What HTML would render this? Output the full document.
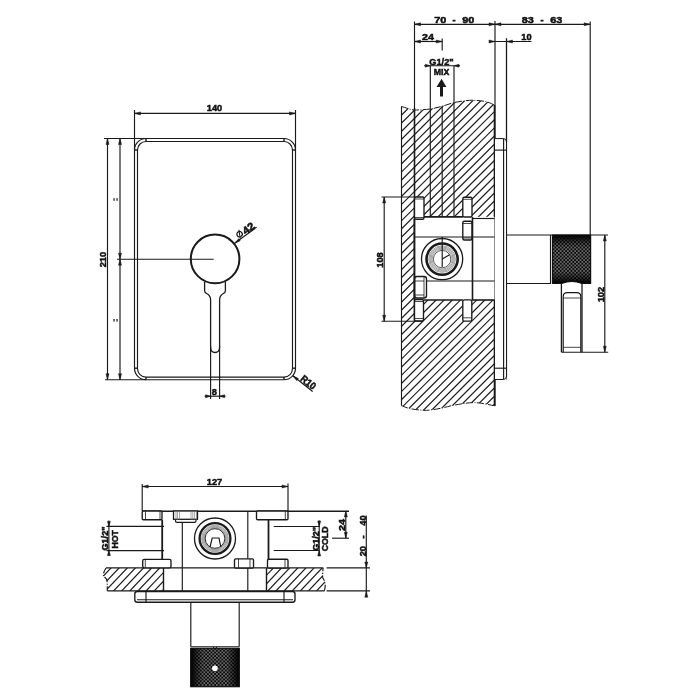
<!DOCTYPE html>
<html><head><meta charset="utf-8"><style>
html,body{margin:0;padding:0;background:#fff;}
svg{display:block;}
text{font-family:"Liberation Sans",sans-serif;fill:#111;stroke:#111;stroke-width:0.5px;}
svg{will-change:transform;}
</style></head><body>
<svg width="700" height="700" viewBox="0 0 700 700">
<line x1="134.5" y1="110" x2="134.5" y2="138.5" stroke="#1a1a1a" stroke-width="1.15"/>
<line x1="295.5" y1="110" x2="295.5" y2="150" stroke="#1a1a1a" stroke-width="1.15"/>
<line x1="134.5" y1="113.4" x2="295.5" y2="113.4" stroke="#1a1a1a" stroke-width="1.15"/>
<polygon points="134.50,113.40 140.50,111.90 140.50,114.90" fill="#1a1a1a" stroke="#1a1a1a" stroke-width="0.5"/>
<polygon points="295.50,113.40 289.50,114.90 289.50,111.90" fill="#1a1a1a" stroke="#1a1a1a" stroke-width="0.5"/>
<text x="0" y="0" font-size="9.72" font-weight="bold" text-anchor="middle" transform="translate(214.5,111.3) scale(0.95,1)">140</text>
<path d="M146.0,138.5 H284.0 A11.5,11.5 0 0 1 295.5,150.0 V368.2 A11.5,11.5 0 0 1 284.0,379.7 H146.0 A11.5,11.5 0 0 1 134.5,368.2 V150.0 A11.5,11.5 0 0 1 146.0,138.5 Z" fill="none" stroke="#1a1a1a" stroke-width="1.15" />
<path d="M146.0,141.5 H284.0 A8.5,8.5 0 0 1 292.5,150.0 V368.59999999999997 A8.5,8.5 0 0 1 284.0,377.09999999999997 H146.0 A8.5,8.5 0 0 1 137.5,368.59999999999997 V150.0 A8.5,8.5 0 0 1 146.0,141.5 Z" fill="none" stroke="#1a1a1a" stroke-width="1.15" />
<line x1="134.5" y1="150.0" x2="137.5" y2="150.0" stroke="#1a1a1a" stroke-width="1.4"/>
<line x1="146.0" y1="138.5" x2="146.0" y2="141.5" stroke="#1a1a1a" stroke-width="1.4"/>
<line x1="292.5" y1="150.0" x2="295.5" y2="150.0" stroke="#1a1a1a" stroke-width="1.4"/>
<line x1="284.0" y1="138.5" x2="284.0" y2="141.5" stroke="#1a1a1a" stroke-width="1.4"/>
<line x1="134.5" y1="368.2" x2="137.5" y2="368.2" stroke="#1a1a1a" stroke-width="1.4"/>
<line x1="146.0" y1="379.7" x2="146.0" y2="377.09999999999997" stroke="#1a1a1a" stroke-width="1.4"/>
<line x1="292.5" y1="368.2" x2="295.5" y2="368.2" stroke="#1a1a1a" stroke-width="1.4"/>
<line x1="284.0" y1="379.7" x2="284.0" y2="377.09999999999997" stroke="#1a1a1a" stroke-width="1.4"/>
<line x1="104" y1="138.5" x2="147" y2="138.5" stroke="#1a1a1a" stroke-width="1.15"/>
<line x1="134.5" y1="138.5" x2="134.5" y2="150" stroke="#1a1a1a" stroke-width="1.15"/>
<line x1="105" y1="379.7" x2="146" y2="379.7" stroke="#1a1a1a" stroke-width="1.15"/>
<line x1="107.5" y1="138.5" x2="107.5" y2="379.7" stroke="#1a1a1a" stroke-width="1.15"/>
<polygon points="107.50,138.50 109.00,144.50 106.00,144.50" fill="#1a1a1a" stroke="#1a1a1a" stroke-width="0.5"/>
<polygon points="107.50,379.70 106.00,373.70 109.00,373.70" fill="#1a1a1a" stroke="#1a1a1a" stroke-width="0.5"/>
<text x="0" y="0" font-size="9.72" font-weight="bold" text-anchor="middle" transform="translate(106.3,259.6) rotate(-90) scale(0.95,1)">210</text>
<line x1="120" y1="138.5" x2="120" y2="379.7" stroke="#1a1a1a" stroke-width="1.15"/>
<polygon points="120.00,138.50 121.50,144.50 118.50,144.50" fill="#1a1a1a" stroke="#1a1a1a" stroke-width="0.5"/>
<polygon points="120.00,379.70 118.50,373.70 121.50,373.70" fill="#1a1a1a" stroke="#1a1a1a" stroke-width="0.5"/>
<polygon points="120.00,259.20 118.50,253.20 121.50,253.20" fill="#1a1a1a" stroke="#1a1a1a" stroke-width="0.5"/>
<polygon points="120.00,259.20 121.50,265.20 118.50,265.20" fill="#1a1a1a" stroke="#1a1a1a" stroke-width="0.5"/>
<rect x="113.3" y="198.2" width="1.5" height="2.6" fill="#444"/>
<rect x="116.3" y="198.2" width="1.5" height="2.6" fill="#444"/>
<rect x="113.3" y="319.0" width="1.5" height="2.6" fill="#444"/>
<rect x="116.3" y="319.0" width="1.5" height="2.6" fill="#444"/>
<line x1="117" y1="259.2" x2="213.7" y2="259.2" stroke="#1a1a1a" stroke-width="1.15"/>
<circle cx="215.1" cy="258.9" r="24.3" fill="none" stroke="#1a1a1a" stroke-width="2.0"/>
<g transform="translate(234.6,243.3) rotate(-36.2)">
<line x1="0" y1="0" x2="27.4" y2="0" stroke="#1a1a1a" stroke-width="1.2"/>
<polygon points="0.00,0.00 6.00,-1.30 6.00,1.30" fill="#1a1a1a" stroke="#1a1a1a" stroke-width="0.5"/>
<circle cx="9.4" cy="-4.4" r="2.7" fill="none" stroke="#111" stroke-width="1.2"/>
<line x1="7.3" y1="-0.4" x2="11.5" y2="-8.4" stroke="#111" stroke-width="1.0"/>
<text x="0" y="0" font-size="10.37" font-weight="bold" text-anchor="middle" transform="translate(20.0,-0.3) scale(1.1,1)">42</text>
</g>
<path d="M204.6,282.0 V290.5 Q204.6,292.5 206.6,293.5 Q210.6,295.5 210.6,300 V347 Q210.6,352.5 215,352.5 Q219.6,352.5 219.6,347 V300 Q219.6,295.5 223.4,293.5 Q225.4,292.5 225.4,290.5 V282.0" fill="none" stroke="#1a1a1a" stroke-width="1.3" />
<line x1="210.6" y1="346" x2="210.6" y2="399" stroke="#1a1a1a" stroke-width="1.15"/>
<line x1="219.6" y1="346" x2="219.6" y2="399" stroke="#1a1a1a" stroke-width="1.15"/>
<line x1="204.5" y1="396.2" x2="225.5" y2="396.2" stroke="#1a1a1a" stroke-width="1.15"/>
<polygon points="210.60,396.20 205.60,397.70 205.60,394.70" fill="#1a1a1a" stroke="#1a1a1a" stroke-width="0.5"/>
<polygon points="219.60,396.20 224.60,394.70 224.60,397.70" fill="#1a1a1a" stroke="#1a1a1a" stroke-width="0.5"/>
<text x="0" y="0" font-size="9.72" font-weight="bold" text-anchor="middle" transform="translate(214.2,395) scale(0.95,1)">8</text>
<g transform="translate(292.8,375.8) rotate(38.3)">
<line x1="0" y1="0" x2="25.3" y2="0" stroke="#1a1a1a" stroke-width="1.2"/>
<polygon points="0.00,0.00 6.00,-1.30 6.00,1.30" fill="#1a1a1a" stroke="#1a1a1a" stroke-width="0.5"/>
<text x="0" y="0" font-size="10.04" font-weight="bold" text-anchor="middle" transform="translate(16.2,-1.0) scale(0.9,1)">R10</text>
</g>
<line x1="414.5" y1="21.5" x2="414.5" y2="108" stroke="#1a1a1a" stroke-width="1.15"/>
<line x1="414.5" y1="108" x2="414.5" y2="321" stroke="#1a1a1a" stroke-width="1.6"/>
<line x1="495" y1="21" x2="495" y2="406" stroke="#1a1a1a" stroke-width="1.15"/>
<line x1="590.2" y1="21.5" x2="590.2" y2="235" stroke="#1a1a1a" stroke-width="1.15"/>
<line x1="414.5" y1="24.3" x2="590.2" y2="24.3" stroke="#1a1a1a" stroke-width="1.15"/>
<polygon points="414.50,24.30 420.50,22.80 420.50,25.80" fill="#1a1a1a" stroke="#1a1a1a" stroke-width="0.5"/>
<polygon points="495.00,24.30 489.00,25.80 489.00,22.80" fill="#1a1a1a" stroke="#1a1a1a" stroke-width="0.5"/>
<polygon points="495.00,24.30 501.00,22.80 501.00,25.80" fill="#1a1a1a" stroke="#1a1a1a" stroke-width="0.5"/>
<polygon points="590.20,24.30 584.20,25.80 584.20,22.80" fill="#1a1a1a" stroke="#1a1a1a" stroke-width="0.5"/>
<text x="0" y="0" font-size="9.72" font-weight="bold" text-anchor="middle" transform="translate(440.2,23.0) scale(1.12,1)">70</text>
<text x="0" y="0" font-size="9.72" font-weight="bold" text-anchor="middle" transform="translate(454,23.0) scale(0.95,1)">-</text>
<text x="0" y="0" font-size="9.72" font-weight="bold" text-anchor="middle" transform="translate(468.2,23.0) scale(1.12,1)">90</text>
<text x="0" y="0" font-size="9.72" font-weight="bold" text-anchor="middle" transform="translate(527.8,23.0) scale(1.12,1)">83</text>
<text x="0" y="0" font-size="9.72" font-weight="bold" text-anchor="middle" transform="translate(542,23.0) scale(0.95,1)">-</text>
<text x="0" y="0" font-size="9.72" font-weight="bold" text-anchor="middle" transform="translate(556.3,23.0) scale(1.12,1)">63</text>
<line x1="414.5" y1="41.5" x2="442.2" y2="41.5" stroke="#1a1a1a" stroke-width="1.15"/>
<line x1="442.2" y1="38.5" x2="442.2" y2="50.5" stroke="#1a1a1a" stroke-width="1.15"/>
<polygon points="414.50,41.50 420.50,40.00 420.50,43.00" fill="#1a1a1a" stroke="#1a1a1a" stroke-width="0.5"/>
<polygon points="442.20,41.50 436.20,43.00 436.20,40.00" fill="#1a1a1a" stroke="#1a1a1a" stroke-width="0.5"/>
<text x="0" y="0" font-size="9.72" font-weight="bold" text-anchor="middle" transform="translate(428,40) scale(1.1,1)">24</text>
<line x1="489" y1="41.5" x2="531.5" y2="41.5" stroke="#1a1a1a" stroke-width="1.15"/>
<line x1="506.5" y1="38.5" x2="506.5" y2="379.5" stroke="#1a1a1a" stroke-width="1.15"/>
<polygon points="495.00,41.50 489.00,43.00 489.00,40.00" fill="#1a1a1a" stroke="#1a1a1a" stroke-width="0.5"/>
<polygon points="506.50,41.50 512.50,40.00 512.50,43.00" fill="#1a1a1a" stroke="#1a1a1a" stroke-width="0.5"/>
<text x="0" y="0" font-size="9.72" font-weight="bold" text-anchor="middle" transform="translate(526.5,40) scale(0.95,1)">10</text>
<line x1="424.1" y1="65.7" x2="460.1" y2="65.7" stroke="#1a1a1a" stroke-width="1.15"/>
<polygon points="430.30,65.70 425.30,67.20 425.30,64.20" fill="#1a1a1a" stroke="#1a1a1a" stroke-width="0.5"/>
<polygon points="454.00,65.70 459.00,64.20 459.00,67.20" fill="#1a1a1a" stroke="#1a1a1a" stroke-width="0.5"/>
<line x1="430.3" y1="65.7" x2="430.3" y2="216.5" stroke="#1a1a1a" stroke-width="1.15"/>
<line x1="454" y1="65.7" x2="454" y2="216.5" stroke="#1a1a1a" stroke-width="1.15"/>
<text x="0" y="0" font-size="9.72" font-weight="bold" text-anchor="middle" transform="translate(441.5,65) scale(0.95,1)">G1/2"</text>
<text x="0" y="0" font-size="9.18" font-weight="bold" text-anchor="middle" transform="translate(441.6,74.6) scale(0.95,1)">MIX</text>
<path d="M441.6,78.7 L446.4,87 L443,87 L443,96.6 L440,96.6 L440,87 L436.5,87 Z" fill="#1a1a1a"/>
<clipPath id="h1"><path d="M401.5,106.5 C402.58,106.83 405.83,107.92 408,108.5 C410.17,109.08 410.83,109.92 414.5,110 C418.17,110.08 425.42,109.62 430,109 C434.58,108.38 438.00,107.37 442,106.3 C446.00,105.23 450.05,103.53 454,102.6 C457.95,101.67 462.32,101.08 465.7,100.7 C469.08,100.32 470.87,100.13 474.3,100.3 C477.73,100.47 482.93,100.90 486.3,101.7 C489.67,102.50 493.13,104.53 494.5,105.1 L494.5,405.8 C491.20,405.27 481.28,402.73 474.7,402.6 C468.12,402.47 460.43,404.10 455,405 C449.57,405.90 445.97,407.20 442.1,408 C438.23,408.80 434.93,409.42 431.8,409.8 C428.67,410.18 426.93,410.50 423.3,410.3 C419.67,410.10 413.67,409.38 410,408.6 C406.33,407.82 402.75,406.10 401.3,405.6 Z"/></clipPath>
<g clip-path="url(#h1)">
<line x1="87.32" y1="413" x2="402.32" y2="98" stroke="#1a1a1a" stroke-width="1.2"/>
<line x1="95.45" y1="413" x2="410.45" y2="98" stroke="#1a1a1a" stroke-width="1.2"/>
<line x1="103.58" y1="413" x2="418.58" y2="98" stroke="#1a1a1a" stroke-width="1.2"/>
<line x1="111.71" y1="413" x2="426.71" y2="98" stroke="#1a1a1a" stroke-width="1.2"/>
<line x1="119.84" y1="413" x2="434.84" y2="98" stroke="#1a1a1a" stroke-width="1.2"/>
<line x1="127.97" y1="413" x2="442.97" y2="98" stroke="#1a1a1a" stroke-width="1.2"/>
<line x1="136.10" y1="413" x2="451.10" y2="98" stroke="#1a1a1a" stroke-width="1.2"/>
<line x1="144.23" y1="413" x2="459.23" y2="98" stroke="#1a1a1a" stroke-width="1.2"/>
<line x1="152.36" y1="413" x2="467.36" y2="98" stroke="#1a1a1a" stroke-width="1.2"/>
<line x1="160.49" y1="413" x2="475.49" y2="98" stroke="#1a1a1a" stroke-width="1.2"/>
<line x1="168.62" y1="413" x2="483.62" y2="98" stroke="#1a1a1a" stroke-width="1.2"/>
<line x1="176.75" y1="413" x2="491.75" y2="98" stroke="#1a1a1a" stroke-width="1.2"/>
<line x1="184.88" y1="413" x2="499.88" y2="98" stroke="#1a1a1a" stroke-width="1.2"/>
<line x1="193.01" y1="413" x2="508.01" y2="98" stroke="#1a1a1a" stroke-width="1.2"/>
<line x1="201.14" y1="413" x2="516.14" y2="98" stroke="#1a1a1a" stroke-width="1.2"/>
<line x1="209.27" y1="413" x2="524.27" y2="98" stroke="#1a1a1a" stroke-width="1.2"/>
<line x1="217.40" y1="413" x2="532.40" y2="98" stroke="#1a1a1a" stroke-width="1.2"/>
<line x1="225.53" y1="413" x2="540.53" y2="98" stroke="#1a1a1a" stroke-width="1.2"/>
<line x1="233.66" y1="413" x2="548.66" y2="98" stroke="#1a1a1a" stroke-width="1.2"/>
<line x1="241.79" y1="413" x2="556.79" y2="98" stroke="#1a1a1a" stroke-width="1.2"/>
<line x1="249.92" y1="413" x2="564.92" y2="98" stroke="#1a1a1a" stroke-width="1.2"/>
<line x1="258.05" y1="413" x2="573.05" y2="98" stroke="#1a1a1a" stroke-width="1.2"/>
<line x1="266.18" y1="413" x2="581.18" y2="98" stroke="#1a1a1a" stroke-width="1.2"/>
<line x1="274.31" y1="413" x2="589.31" y2="98" stroke="#1a1a1a" stroke-width="1.2"/>
<line x1="282.44" y1="413" x2="597.44" y2="98" stroke="#1a1a1a" stroke-width="1.2"/>
<line x1="290.57" y1="413" x2="605.57" y2="98" stroke="#1a1a1a" stroke-width="1.2"/>
<line x1="298.70" y1="413" x2="613.70" y2="98" stroke="#1a1a1a" stroke-width="1.2"/>
<line x1="306.83" y1="413" x2="621.83" y2="98" stroke="#1a1a1a" stroke-width="1.2"/>
<line x1="314.96" y1="413" x2="629.96" y2="98" stroke="#1a1a1a" stroke-width="1.2"/>
<line x1="323.09" y1="413" x2="638.09" y2="98" stroke="#1a1a1a" stroke-width="1.2"/>
<line x1="331.22" y1="413" x2="646.22" y2="98" stroke="#1a1a1a" stroke-width="1.2"/>
<line x1="339.35" y1="413" x2="654.35" y2="98" stroke="#1a1a1a" stroke-width="1.2"/>
<line x1="347.48" y1="413" x2="662.48" y2="98" stroke="#1a1a1a" stroke-width="1.2"/>
<line x1="355.61" y1="413" x2="670.61" y2="98" stroke="#1a1a1a" stroke-width="1.2"/>
<line x1="363.74" y1="413" x2="678.74" y2="98" stroke="#1a1a1a" stroke-width="1.2"/>
<line x1="371.87" y1="413" x2="686.87" y2="98" stroke="#1a1a1a" stroke-width="1.2"/>
<line x1="380.00" y1="413" x2="695.00" y2="98" stroke="#1a1a1a" stroke-width="1.2"/>
<line x1="388.13" y1="413" x2="703.13" y2="98" stroke="#1a1a1a" stroke-width="1.2"/>
<line x1="396.26" y1="413" x2="711.26" y2="98" stroke="#1a1a1a" stroke-width="1.2"/>
<line x1="404.39" y1="413" x2="719.39" y2="98" stroke="#1a1a1a" stroke-width="1.2"/>
<line x1="412.52" y1="413" x2="727.52" y2="98" stroke="#1a1a1a" stroke-width="1.2"/>
<line x1="420.65" y1="413" x2="735.65" y2="98" stroke="#1a1a1a" stroke-width="1.2"/>
<line x1="428.78" y1="413" x2="743.78" y2="98" stroke="#1a1a1a" stroke-width="1.2"/>
<line x1="436.91" y1="413" x2="751.91" y2="98" stroke="#1a1a1a" stroke-width="1.2"/>
<line x1="445.04" y1="413" x2="760.04" y2="98" stroke="#1a1a1a" stroke-width="1.2"/>
<line x1="453.17" y1="413" x2="768.17" y2="98" stroke="#1a1a1a" stroke-width="1.2"/>
<line x1="461.30" y1="413" x2="776.30" y2="98" stroke="#1a1a1a" stroke-width="1.2"/>
<line x1="469.43" y1="413" x2="784.43" y2="98" stroke="#1a1a1a" stroke-width="1.2"/>
<line x1="477.56" y1="413" x2="792.56" y2="98" stroke="#1a1a1a" stroke-width="1.2"/>
<line x1="485.69" y1="413" x2="800.69" y2="98" stroke="#1a1a1a" stroke-width="1.2"/>
<line x1="493.82" y1="413" x2="808.82" y2="98" stroke="#1a1a1a" stroke-width="1.2"/>
</g>
<path d="M401.5,106.5 C402.58,106.83 405.83,107.92 408,108.5 C410.17,109.08 410.83,109.92 414.5,110 C418.17,110.08 425.42,109.62 430,109 C434.58,108.38 438.00,107.37 442,106.3 C446.00,105.23 450.05,103.53 454,102.6 C457.95,101.67 462.32,101.08 465.7,100.7 C469.08,100.32 470.87,100.13 474.3,100.3 C477.73,100.47 482.93,100.90 486.3,101.7 C489.67,102.50 493.13,104.53 494.5,105.1" fill="none" stroke="#1a1a1a" stroke-width="1.0" stroke-dasharray="7 1.5 1 1.5"/>
<path d="M401.3,405.6 C402.75,406.10 406.33,407.82 410,408.6 C413.67,409.38 419.67,410.10 423.3,410.3 C426.93,410.50 428.67,410.18 431.8,409.8 C434.93,409.42 438.23,408.80 442.1,408 C445.97,407.20 449.57,405.90 455,405 C460.43,404.10 468.12,402.47 474.7,402.6 C481.28,402.73 491.20,405.27 494.5,405.8" fill="none" stroke="#1a1a1a" stroke-width="1.0" stroke-dasharray="7 1.5 1 1.5"/>
<line x1="401.5" y1="106.5" x2="401.5" y2="405.6" stroke="#1a1a1a" stroke-width="1.15"/>
<line x1="494.5" y1="105" x2="494.5" y2="406" stroke="#1a1a1a" stroke-width="1.6"/>
<line x1="442.2" y1="106" x2="442.2" y2="267" stroke="#1a1a1a" stroke-width="1.15"/>
<rect x="414.5" y="216.8" width="80" height="83.2" fill="#fff"/>
<rect x="414.5" y="197" width="9.5" height="22.19999999999999" rx="1.5" fill="#fff" stroke="#1a1a1a" stroke-width="1.35"/>
<line x1="414.5" y1="199" x2="424" y2="199" stroke="#1a1a1a" stroke-width="0.8"/>
<line x1="414.5" y1="217.5" x2="424" y2="217.5" stroke="#1a1a1a" stroke-width="0.8"/>
<rect x="462.8" y="197.2" width="9.199999999999989" height="19.80000000000001" rx="1.5" fill="#fff" stroke="#1a1a1a" stroke-width="1.35"/>
<line x1="462.8" y1="199.3" x2="472" y2="199.3" stroke="#1a1a1a" stroke-width="0.8"/>
<rect x="462.8" y="221.2" width="9.199999999999989" height="18.80000000000001" rx="1.5" fill="#fff" stroke="#1a1a1a" stroke-width="1.35"/>
<line x1="462.8" y1="223.5" x2="472" y2="223.5" stroke="#1a1a1a" stroke-width="0.8"/>
<line x1="462.8" y1="238" x2="472" y2="238" stroke="#1a1a1a" stroke-width="0.8"/>
<rect x="414.5" y="276.5" width="12.0" height="21.5" rx="2.5" fill="#fff" stroke="#1a1a1a" stroke-width="1.35"/>
<line x1="414.5" y1="281" x2="424" y2="281" stroke="#1a1a1a" stroke-width="0.8"/>
<line x1="414.5" y1="295" x2="424" y2="295" stroke="#1a1a1a" stroke-width="0.8"/>
<line x1="424" y1="276.5" x2="424" y2="298" stroke="#1a1a1a" stroke-width="0.8"/>
<rect x="414.5" y="299.5" width="9.0" height="21.5" rx="1.5" fill="#fff" stroke="#1a1a1a" stroke-width="1.35"/>
<line x1="414.5" y1="301.5" x2="423.5" y2="301.5" stroke="#1a1a1a" stroke-width="0.8"/>
<line x1="414.5" y1="318.5" x2="423.5" y2="318.5" stroke="#1a1a1a" stroke-width="0.8"/>
<rect x="462.8" y="299.8" width="9.0" height="21.399999999999977" rx="1.5" fill="#fff" stroke="#1a1a1a" stroke-width="1.35"/>
<line x1="462.8" y1="317.8" x2="471.8" y2="317.8" stroke="#1a1a1a" stroke-width="0.8"/>
<line x1="424" y1="216.8" x2="462.8" y2="216.8" stroke="#1a1a1a" stroke-width="1.8"/>
<line x1="472" y1="218.5" x2="494.5" y2="218.5" stroke="#1a1a1a" stroke-width="1.15"/>
<line x1="414.5" y1="219" x2="414.5" y2="300" stroke="#1a1a1a" stroke-width="1.8"/>
<line x1="472.5" y1="217" x2="472.5" y2="300" stroke="#1a1a1a" stroke-width="1.6"/>
<line x1="414.5" y1="237" x2="494.5" y2="237" stroke="#1a1a1a" stroke-width="1.15"/>
<line x1="426.5" y1="281" x2="494.5" y2="281" stroke="#1a1a1a" stroke-width="1.15"/>
<line x1="423.5" y1="300" x2="462.8" y2="300" stroke="#1a1a1a" stroke-width="1.6"/>
<line x1="471.8" y1="300" x2="494.5" y2="300" stroke="#1a1a1a" stroke-width="1.6"/>
<circle cx="442.1" cy="259.1" r="20.6" fill="#fff" stroke="#1a1a1a" stroke-width="1.3"/>
<circle cx="442.1" cy="259.1" r="15.6" fill="none" stroke="#1a1a1a" stroke-width="2.6"/>
<circle cx="442.1" cy="259.1" r="13.3" fill="none" stroke="#555" stroke-width="0.55"/>
<circle cx="442.1" cy="259.1" r="12.2" fill="none" stroke="#555" stroke-width="0.55"/>
<circle cx="442.1" cy="259.1" r="11.1" fill="none" stroke="#555" stroke-width="0.55"/>
<circle cx="442.1" cy="259.1" r="10.0" fill="none" stroke="#555" stroke-width="0.55"/>
<circle cx="442.1" cy="259.1" r="8.7" fill="none" stroke="#333" stroke-width="0.8"/>
<line x1="442.2" y1="237" x2="442.2" y2="267" stroke="#1a1a1a" stroke-width="1.15"/>
<line x1="442.2" y1="259.1" x2="449.6" y2="254.7" stroke="#1a1a1a" stroke-width="1.15"/>
<line x1="381.5" y1="197" x2="415" y2="197" stroke="#1a1a1a" stroke-width="1.15"/>
<line x1="381.5" y1="321.2" x2="423" y2="321.2" stroke="#1a1a1a" stroke-width="1.15"/>
<line x1="384.2" y1="197" x2="384.2" y2="321.2" stroke="#1a1a1a" stroke-width="1.15"/>
<polygon points="384.20,197.00 385.70,203.00 382.70,203.00" fill="#1a1a1a" stroke="#1a1a1a" stroke-width="0.5"/>
<polygon points="384.20,321.20 382.70,315.20 385.70,315.20" fill="#1a1a1a" stroke="#1a1a1a" stroke-width="0.5"/>
<text x="0" y="0" font-size="9.72" font-weight="bold" text-anchor="middle" transform="translate(382.8,260) rotate(-90) scale(0.95,1)">108</text>
<rect x="495" y="138.6" width="11.5" height="240.9" fill="#fff"/>
<path d="M495,138.6 H503.6 Q506.5,138.6 506.5,142 V376 Q506.5,379.5 503.6,379.5 H495" fill="none" stroke="#1a1a1a" stroke-width="1.0" />
<line x1="503.6" y1="138.6" x2="503.6" y2="379.5" stroke="#1a1a1a" stroke-width="1.15"/>
<line x1="495" y1="150.1" x2="506.5" y2="150.1" stroke="#1a1a1a" stroke-width="1.15"/>
<line x1="495" y1="368.2" x2="506.5" y2="368.2" stroke="#1a1a1a" stroke-width="1.15"/>
<line x1="506.5" y1="38.5" x2="506.5" y2="142" stroke="#1a1a1a" stroke-width="1.15"/>
<line x1="506.5" y1="235" x2="608" y2="235" stroke="#1a1a1a" stroke-width="1.15"/>
<line x1="506.5" y1="283.5" x2="551" y2="283.5" stroke="#1a1a1a" stroke-width="1.15"/>
<line x1="550.5" y1="235" x2="550.5" y2="283.5" stroke="#1a1a1a" stroke-width="1.15"/>
<defs><pattern id="kn" width="3.6" height="3.6" patternUnits="userSpaceOnUse"><rect width="3.6" height="3.6" fill="#0a0a0a"/><rect x="0" y="0" width="1.8" height="1.8" fill="#666"/><rect x="1.8" y="1.8" width="1.8" height="1.8" fill="#666"/></pattern><linearGradient id="gv" x1="0" y1="0" x2="0" y2="1"><stop offset="0" stop-color="#000" stop-opacity="1"/><stop offset="0.1" stop-color="#000" stop-opacity="0.55"/><stop offset="0.25" stop-color="#000" stop-opacity="0"/><stop offset="0.75" stop-color="#000" stop-opacity="0"/><stop offset="0.9" stop-color="#000" stop-opacity="0.55"/><stop offset="1" stop-color="#000" stop-opacity="1"/></linearGradient><linearGradient id="gh" x1="0" y1="0" x2="1" y2="0"><stop offset="0" stop-color="#000" stop-opacity="1"/><stop offset="0.1" stop-color="#000" stop-opacity="0.6"/><stop offset="0.25" stop-color="#000" stop-opacity="0"/><stop offset="0.75" stop-color="#000" stop-opacity="0"/><stop offset="0.9" stop-color="#000" stop-opacity="0.6"/><stop offset="1" stop-color="#000" stop-opacity="1"/></linearGradient></defs>
<path d="M552.5,235 H590.6 V283.5 H582 Q572,279.5 561.5,283.5 H552.5 Z" fill="url(#kn)"/>
<path d="M552.5,235 H590.6 V283.5 H582 Q572,279.5 561.5,283.5 H552.5 Z" fill="url(#gv)"/>
<path d="M552.5,235 H590.6 V283.5 H582 Q572,279.5 561.5,283.5 H552.5 Z" fill="none" stroke="#111" stroke-width="1.2"/>
<line x1="561.4" y1="283.5" x2="561.4" y2="352.2" stroke="#1a1a1a" stroke-width="1.3"/>
<line x1="582" y1="283.5" x2="582" y2="352.2" stroke="#1a1a1a" stroke-width="1.3"/>
<path d="M563.2,352.2 V296.6 Q563.2,292.6 567.2,292.6 H576.8 Q580.8,292.6 580.8,296.6 V352.2" fill="none" stroke="#1a1a1a" stroke-width="1.2" />
<line x1="563.2" y1="298" x2="580.8" y2="298" stroke="#1a1a1a" stroke-width="0.8"/>
<line x1="563.2" y1="347.3" x2="580.8" y2="347.3" stroke="#1a1a1a" stroke-width="0.8"/>
<line x1="561.4" y1="352.2" x2="608.2" y2="352.2" stroke="#1a1a1a" stroke-width="1.15"/>
<line x1="604.8" y1="235" x2="604.8" y2="352.2" stroke="#1a1a1a" stroke-width="1.15"/>
<polygon points="604.80,235.00 606.30,241.00 603.30,241.00" fill="#1a1a1a" stroke="#1a1a1a" stroke-width="0.5"/>
<polygon points="604.80,352.20 603.30,346.20 606.30,346.20" fill="#1a1a1a" stroke="#1a1a1a" stroke-width="0.5"/>
<text x="0" y="0" font-size="9.72" font-weight="bold" text-anchor="middle" transform="translate(604.1,294.6) rotate(-90) scale(0.95,1)">102</text>
<line x1="142.2" y1="484" x2="142.2" y2="511" stroke="#1a1a1a" stroke-width="1.15"/>
<line x1="288" y1="483.5" x2="288" y2="511" stroke="#1a1a1a" stroke-width="1.15"/>
<line x1="142.2" y1="486.5" x2="288" y2="486.5" stroke="#1a1a1a" stroke-width="1.15"/>
<polygon points="142.20,486.50 148.20,485.00 148.20,488.00" fill="#1a1a1a" stroke="#1a1a1a" stroke-width="0.5"/>
<polygon points="288.00,486.50 282.00,488.00 282.00,485.00" fill="#1a1a1a" stroke="#1a1a1a" stroke-width="0.5"/>
<text x="0" y="0" font-size="9.72" font-weight="bold" text-anchor="middle" transform="translate(214.5,485) scale(0.95,1)">127</text>
<line x1="142.2" y1="511.2" x2="349" y2="511.2" stroke="#1a1a1a" stroke-width="1.4"/>
<clipPath id="h2"><path d="M106,568 C105.67,568.67 104.40,570.67 104,572 C103.60,573.33 103.13,574.67 103.6,576 C104.07,577.33 106.18,577.50 106.8,580 C107.42,582.50 107.22,589.17 107.3,591 L163.5,591 L163.5,568 Z"/></clipPath>
<g clip-path="url(#h2)">
<line x1="75.32" y1="597" x2="107.58" y2="563" stroke="#1a1a1a" stroke-width="1.2"/>
<line x1="83.44" y1="597" x2="115.70" y2="563" stroke="#1a1a1a" stroke-width="1.2"/>
<line x1="91.56" y1="597" x2="123.82" y2="563" stroke="#1a1a1a" stroke-width="1.2"/>
<line x1="99.68" y1="597" x2="131.94" y2="563" stroke="#1a1a1a" stroke-width="1.2"/>
<line x1="107.80" y1="597" x2="140.06" y2="563" stroke="#1a1a1a" stroke-width="1.2"/>
<line x1="115.92" y1="597" x2="148.18" y2="563" stroke="#1a1a1a" stroke-width="1.2"/>
<line x1="124.04" y1="597" x2="156.30" y2="563" stroke="#1a1a1a" stroke-width="1.2"/>
<line x1="132.16" y1="597" x2="164.42" y2="563" stroke="#1a1a1a" stroke-width="1.2"/>
<line x1="140.28" y1="597" x2="172.54" y2="563" stroke="#1a1a1a" stroke-width="1.2"/>
<line x1="148.40" y1="597" x2="180.66" y2="563" stroke="#1a1a1a" stroke-width="1.2"/>
<line x1="156.52" y1="597" x2="188.78" y2="563" stroke="#1a1a1a" stroke-width="1.2"/>
<line x1="164.64" y1="597" x2="196.90" y2="563" stroke="#1a1a1a" stroke-width="1.2"/>
</g>
<clipPath id="h3"><path d="M266.5,568 L323.1,568 L323.1,568 C323.02,569.50 322.37,574.83 322.6,577 C322.83,579.17 324.07,579.50 324.5,581 C324.93,582.50 325.22,584.38 325.2,586 C325.18,587.62 324.53,589.92 324.4,590.7 L266.5,591 Z"/></clipPath>
<g clip-path="url(#h3)">
<line x1="237.72" y1="597" x2="269.98" y2="563" stroke="#1a1a1a" stroke-width="1.2"/>
<line x1="245.84" y1="597" x2="278.10" y2="563" stroke="#1a1a1a" stroke-width="1.2"/>
<line x1="253.96" y1="597" x2="286.22" y2="563" stroke="#1a1a1a" stroke-width="1.2"/>
<line x1="262.08" y1="597" x2="294.34" y2="563" stroke="#1a1a1a" stroke-width="1.2"/>
<line x1="270.20" y1="597" x2="302.46" y2="563" stroke="#1a1a1a" stroke-width="1.2"/>
<line x1="278.32" y1="597" x2="310.58" y2="563" stroke="#1a1a1a" stroke-width="1.2"/>
<line x1="286.44" y1="597" x2="318.70" y2="563" stroke="#1a1a1a" stroke-width="1.2"/>
<line x1="294.56" y1="597" x2="326.82" y2="563" stroke="#1a1a1a" stroke-width="1.2"/>
<line x1="302.68" y1="597" x2="334.94" y2="563" stroke="#1a1a1a" stroke-width="1.2"/>
<line x1="310.80" y1="597" x2="343.06" y2="563" stroke="#1a1a1a" stroke-width="1.2"/>
<line x1="318.92" y1="597" x2="351.18" y2="563" stroke="#1a1a1a" stroke-width="1.2"/>
<line x1="327.04" y1="597" x2="359.30" y2="563" stroke="#1a1a1a" stroke-width="1.2"/>
</g>
<path d="M106,568 C105.67,568.67 104.40,570.67 104,572 C103.60,573.33 103.13,574.67 103.6,576 C104.07,577.33 106.18,577.50 106.8,580 C107.42,582.50 107.22,589.17 107.3,591" fill="none" stroke="#1a1a1a" stroke-width="1.15" stroke-dasharray="6 1.5 1 1.5"/>
<path d="M324.4,590.7 C324.53,589.92 325.18,587.62 325.2,586 C325.22,584.38 324.93,582.50 324.5,581 C324.07,579.50 322.83,579.17 322.6,577 C322.37,574.83 323.02,569.50 323.1,568" fill="none" stroke="#1a1a1a" stroke-width="1.15" stroke-dasharray="6 1.5 1 1.5"/>
<line x1="106" y1="567.9" x2="323.3" y2="567.9" stroke="#1a1a1a" stroke-width="1.25"/>
<line x1="107.3" y1="590.9" x2="324.6" y2="590.9" stroke="#1a1a1a" stroke-width="1.25"/>
<line x1="326.6" y1="567.9" x2="370" y2="567.9" stroke="#1a1a1a" stroke-width="1.15"/>
<line x1="326.6" y1="590.9" x2="370" y2="590.9" stroke="#1a1a1a" stroke-width="1.15"/>
<line x1="163.5" y1="568" x2="163.5" y2="591" stroke="#1a1a1a" stroke-width="1.4"/>
<line x1="266.5" y1="568" x2="266.5" y2="591" stroke="#1a1a1a" stroke-width="1.4"/>
<line x1="182.3" y1="522" x2="182.3" y2="591" stroke="#1a1a1a" stroke-width="1.15"/>
<line x1="247.8" y1="511" x2="247.8" y2="591" stroke="#1a1a1a" stroke-width="1.15"/>
<line x1="162.2" y1="519.7" x2="162.2" y2="559.4" stroke="#1a1a1a" stroke-width="1.8"/>
<line x1="268.5" y1="519.7" x2="268.5" y2="559.2" stroke="#1a1a1a" stroke-width="1.8"/>
<rect x="142.2" y="511" width="19.80000000000001" height="8.700000000000045" rx="1.2" fill="#fff" stroke="#1a1a1a" stroke-width="1.35"/>
<line x1="145.5" y1="511" x2="145.5" y2="519.7" stroke="#1a1a1a" stroke-width="0.8"/>
<line x1="160" y1="511" x2="160" y2="519.7" stroke="#1a1a1a" stroke-width="0.8"/>
<rect x="256.5" y="511" width="31.5" height="8.700000000000045" rx="1.2" fill="#fff" stroke="#1a1a1a" stroke-width="1.35"/>
<line x1="285.3" y1="511" x2="285.3" y2="519.7" stroke="#1a1a1a" stroke-width="0.8"/>
<path d="M175.5,519.3 V521 Q175.5,522.3 177,522.3 H194.5 Q196,522.3 196,521 V519.3" fill="#fff" stroke="#1a1a1a" stroke-width="1.2" />
<rect x="173.5" y="511" width="24.0" height="8.299999999999955" fill="#fff" stroke="#1a1a1a" stroke-width="1.3"/>
<line x1="176" y1="511" x2="176" y2="520" stroke="#666" stroke-width="0.6"/>
<line x1="177.5" y1="511" x2="177.5" y2="520" stroke="#666" stroke-width="0.6"/>
<line x1="179.5" y1="511" x2="179.5" y2="520" stroke="#666" stroke-width="0.6"/>
<line x1="191" y1="511" x2="191" y2="520" stroke="#666" stroke-width="0.6"/>
<line x1="192.8" y1="511" x2="192.8" y2="520" stroke="#666" stroke-width="0.6"/>
<line x1="194.6" y1="511" x2="194.6" y2="520" stroke="#666" stroke-width="0.6"/>
<line x1="196.5" y1="511" x2="196.5" y2="520" stroke="#666" stroke-width="0.6"/>
<rect x="142.7" y="559.4" width="28.30000000000001" height="8.399999999999977" rx="1.5" fill="#fff" stroke="#1a1a1a" stroke-width="1.35"/>
<line x1="145.3" y1="559.4" x2="145.3" y2="567.8" stroke="#1a1a1a" stroke-width="0.8"/>
<rect x="267.5" y="559.2" width="20.5" height="8.799999999999955" rx="1.2" fill="#fff" stroke="#1a1a1a" stroke-width="1.35"/>
<line x1="285" y1="559.2" x2="285" y2="568" stroke="#1a1a1a" stroke-width="0.8"/>
<rect x="234.5" y="558.8" width="19.0" height="9.200000000000045" rx="1.2" fill="#fff" stroke="#1a1a1a" stroke-width="1.35"/>
<line x1="238.5" y1="558.8" x2="238.5" y2="568" stroke="#1a1a1a" stroke-width="0.8"/>
<line x1="250" y1="558.8" x2="250" y2="568" stroke="#1a1a1a" stroke-width="0.8"/>
<circle cx="215" cy="538.5" r="20.5" fill="#fff" stroke="#1a1a1a" stroke-width="1.3"/>
<circle cx="215" cy="538.5" r="15.4" fill="none" stroke="#1a1a1a" stroke-width="2.3"/>
<circle cx="215" cy="538.5" r="13.4" fill="none" stroke="#555" stroke-width="0.55"/>
<circle cx="215" cy="538.5" r="12.4" fill="none" stroke="#555" stroke-width="0.55"/>
<circle cx="215" cy="538.5" r="11.4" fill="none" stroke="#555" stroke-width="0.55"/>
<circle cx="215" cy="538.5" r="10.6" fill="none" stroke="#555" stroke-width="0.55"/>
<circle cx="215" cy="538.5" r="9.8" fill="none" stroke="#1a1a1a" stroke-width="0.9"/>
<path d="M210,547 L212.2,538 H219 L220.8,547" fill="none" stroke="#1a1a1a" stroke-width="1.2" />
<line x1="106.5" y1="526.4" x2="164" y2="526.4" stroke="#1a1a1a" stroke-width="1.15"/>
<line x1="106.5" y1="550.6" x2="164" y2="550.6" stroke="#1a1a1a" stroke-width="1.15"/>
<line x1="108.9" y1="520.4" x2="108.9" y2="555.8" stroke="#1a1a1a" stroke-width="1.15"/>
<polygon points="108.90,526.40 107.40,521.40 110.40,521.40" fill="#1a1a1a" stroke="#1a1a1a" stroke-width="0.5"/>
<polygon points="108.90,550.60 110.40,555.60 107.40,555.60" fill="#1a1a1a" stroke="#1a1a1a" stroke-width="0.5"/>
<text x="0" y="0" font-size="8.64" font-weight="bold" text-anchor="middle" transform="translate(107.6,538.5) rotate(-90) scale(1.05,1)">G1/2"</text>
<text x="0" y="0" font-size="9.18" font-weight="bold" text-anchor="middle" transform="translate(118.2,539.3) rotate(-90) scale(0.95,1)">HOT</text>
<line x1="273.7" y1="526.5" x2="319.5" y2="526.5" stroke="#1a1a1a" stroke-width="1.15"/>
<line x1="273.7" y1="550.5" x2="319.5" y2="550.5" stroke="#1a1a1a" stroke-width="1.15"/>
<line x1="319.2" y1="520.6" x2="319.2" y2="556" stroke="#1a1a1a" stroke-width="1.15"/>
<polygon points="319.20,526.50 317.70,521.00 320.70,521.00" fill="#1a1a1a" stroke="#1a1a1a" stroke-width="0.5"/>
<polygon points="319.20,550.50 320.70,556.00 317.70,556.00" fill="#1a1a1a" stroke="#1a1a1a" stroke-width="0.5"/>
<text x="0" y="0" font-size="8.64" font-weight="bold" text-anchor="middle" transform="translate(318.7,538.9) rotate(-90) scale(1.05,1)">G1/2"</text>
<text x="0" y="0" font-size="9.18" font-weight="bold" text-anchor="middle" transform="translate(327.5,538.9) rotate(-90) scale(0.95,1)">COLD</text>
<line x1="332" y1="538.2" x2="349" y2="538.2" stroke="#1a1a1a" stroke-width="1.15"/>
<line x1="345.8" y1="511" x2="345.8" y2="538.2" stroke="#1a1a1a" stroke-width="1.15"/>
<polygon points="345.80,511.00 347.30,517.00 344.30,517.00" fill="#1a1a1a" stroke="#1a1a1a" stroke-width="0.5"/>
<polygon points="345.80,538.20 344.30,532.20 347.30,532.20" fill="#1a1a1a" stroke="#1a1a1a" stroke-width="0.5"/>
<text x="0" y="0" font-size="9.72" font-weight="bold" text-anchor="middle" transform="translate(344.6,525.0) rotate(-90) scale(1.1,1)">24</text>
<line x1="366.3" y1="515.4" x2="366.3" y2="596" stroke="#1a1a1a" stroke-width="1.15"/>
<polygon points="366.30,568.00 364.80,562.00 367.80,562.00" fill="#1a1a1a" stroke="#1a1a1a" stroke-width="0.5"/>
<polygon points="366.30,591.20 367.80,597.20 364.80,597.20" fill="#1a1a1a" stroke="#1a1a1a" stroke-width="0.5"/>
<text x="0" y="0" font-size="9.72" font-weight="bold" text-anchor="middle" transform="translate(366.0,551.2) rotate(-90) scale(0.95,1)">20</text>
<text x="0" y="0" font-size="9.72" font-weight="bold" text-anchor="middle" transform="translate(366.0,537) rotate(-90) scale(0.95,1)">-</text>
<text x="0" y="0" font-size="9.72" font-weight="bold" text-anchor="middle" transform="translate(366.0,520.6) rotate(-90) scale(0.95,1)">40</text>
<rect x="134.8" y="591.5" width="160.2" height="10.700000000000045" rx="2.5" fill="#fff" stroke="#1a1a1a" stroke-width="1.35"/>
<line x1="146" y1="591.5" x2="146" y2="602.2" stroke="#1a1a1a" stroke-width="1.15"/>
<line x1="284" y1="591.5" x2="284" y2="602.2" stroke="#1a1a1a" stroke-width="1.15"/>
<line x1="137" y1="599.7" x2="293" y2="599.7" stroke="#1a1a1a" stroke-width="1.15"/>
<line x1="190.8" y1="602.2" x2="190.8" y2="646.7" stroke="#1a1a1a" stroke-width="1.15"/>
<line x1="239.2" y1="602.2" x2="239.2" y2="646.7" stroke="#1a1a1a" stroke-width="1.15"/>
<line x1="190.8" y1="646.7" x2="239.2" y2="646.7" stroke="#1a1a1a" stroke-width="1.15"/>
<path d="M212.8,646.9 L215,648.8 L217.2,646.9" fill="none" stroke="#1a1a1a" stroke-width="1.0" />
<rect x="190.7" y="648.3" width="48.6" height="38.4" fill="url(#kn)"/>
<rect x="190.7" y="648.3" width="48.6" height="38.4" fill="url(#gh)"/>
<rect x="190.7" y="648.3" width="48.6" height="38.4" fill="none" stroke="#111" stroke-width="1.2"/>
<circle cx="214.9" cy="668.2" r="2.8" fill="#fff" stroke="#fff" stroke-width="0"/>
</svg></body></html>
